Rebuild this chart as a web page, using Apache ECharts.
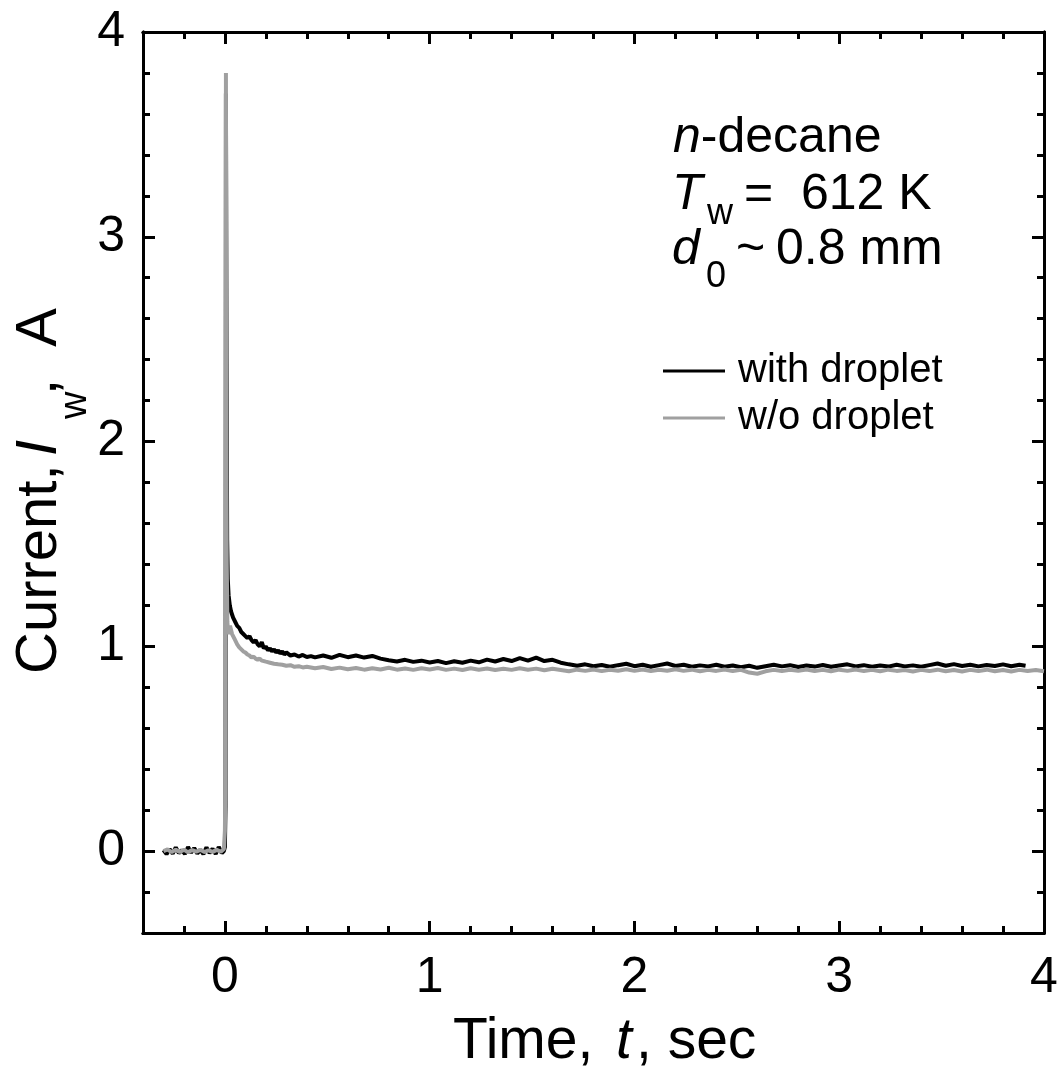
<!DOCTYPE html>
<html>
<head>
<meta charset="utf-8">
<script src="https://cdn.jsdelivr.net/npm/echarts@6/dist/echarts.min.js"></script>
<style>html,body{margin:0;padding:0;background:#fff}#c{width:1061px;height:1086px}</style>
</head>
<body>
<div id="c"></div>
<script>
// ---------- data ----------
const seriesNames = ['with droplet', 'w/o droplet'];
const majorTicks = [0, 1, 2, 3, 4];

// [time (s), current (A)]
const withDroplet = [
  [-0.30,0.005],[-0.285,-0.015],[-0.27,0.01],[-0.255,-0.012],[-0.24,0.018],[-0.225,-0.01],[-0.21,0.004],
  [-0.195,-0.014],[-0.18,0.02],[-0.165,-0.008],[-0.15,0.015],[-0.135,-0.012],[-0.12,0.006],[-0.105,-0.015],
  [-0.09,0.018],[-0.075,-0.01],[-0.06,0.012],[-0.045,-0.014],[-0.03,0.02],[-0.015,-0.01],[-0.005,0.0],
  [0.0,0.02],[0.003,0.22],[0.005,3.70],[0.008,2.40],[0.011,1.52],[0.014,1.33],[0.018,1.25],[0.024,1.20],
  [0.03,1.17],[0.04,1.14],[0.05,1.12],[0.06,1.10],[0.07,1.09],[0.08,1.07],[0.09,1.06],[0.10,1.05],
  [0.11,1.04],[0.12,1.05],[0.13,1.03],[0.14,1.02],[0.15,1.03],[0.16,1.01],[0.17,1.00],[0.18,1.02],
  [0.19,0.99],[0.20,1.00],[0.21,0.98],[0.22,0.99],[0.23,0.975],[0.24,0.985],[0.25,0.97],[0.26,0.98],
  [0.27,0.965],[0.28,0.975],[0.29,0.96],[0.30,0.97],[0.32,0.955],[0.34,0.96],[0.36,0.95],[0.38,0.958],
  [0.40,0.948],[0.42,0.952],
  [0.44,0.946],[0.48,0.955],[0.52,0.944],[0.56,0.958],[0.60,0.947],[0.64,0.955],[0.68,0.945],[0.72,0.953],
  [0.76,0.94],[0.80,0.932],[0.84,0.926],[0.88,0.934],[0.92,0.924],[0.96,0.93],[1.00,0.921],[1.04,0.928],
  [1.08,0.918],[1.12,0.927],[1.16,0.92],[1.20,0.93],[1.24,0.922],[1.28,0.935],[1.32,0.926],[1.36,0.938],
  [1.40,0.928],[1.44,0.942],[1.48,0.93],[1.52,0.945],[1.56,0.928],[1.60,0.934],[1.64,0.92],[1.68,0.912],
  [1.72,0.905],[1.76,0.912],[1.80,0.903],[1.84,0.909],[1.88,0.90],[1.92,0.908],[1.96,0.915],[2.00,0.903],
  [2.04,0.91],[2.08,0.90],[2.12,0.908],[2.16,0.916],[2.20,0.904],[2.24,0.91],[2.28,0.90],[2.32,0.907],
  [2.36,0.902],[2.40,0.91],[2.44,0.90],[2.48,0.906],[2.52,0.898],[2.56,0.905],[2.60,0.895],[2.64,0.903],
  [2.68,0.91],[2.72,0.902],[2.76,0.908],[2.80,0.899],[2.84,0.906],[2.88,0.901],[2.92,0.909],[2.96,0.90],
  [3.00,0.906],[3.04,0.912],[3.08,0.902],[3.12,0.908],[3.16,0.90],[3.20,0.906],[3.24,0.901],[3.28,0.91],
  [3.32,0.902],[3.36,0.907],[3.40,0.90],[3.44,0.908],[3.48,0.916],[3.52,0.905],[3.56,0.913],[3.60,0.904],
  [3.64,0.91],[3.68,0.902],[3.72,0.909],[3.76,0.904],[3.80,0.912],[3.84,0.903],[3.88,0.91],[3.91,0.905]
];

const withoutDroplet = [
  [-0.30,0.0],[-0.28,0.008],[-0.26,-0.005],[-0.24,0.006],[-0.22,-0.004],[-0.20,0.007],[-0.18,-0.006],
  [-0.16,0.005],[-0.14,-0.003],[-0.12,0.006],[-0.10,-0.005],[-0.08,0.004],[-0.06,-0.004],[-0.04,0.006],
  [-0.02,-0.003],[-0.005,0.01],[0.0,0.10],[0.002,0.30],[0.005,3.80],[0.007,2.20],[0.009,1.40],[0.012,1.12],
  [0.016,1.06],[0.02,1.08],[0.025,1.10],[0.03,1.08],[0.035,1.06],[0.04,1.05],[0.05,1.03],[0.06,1.01],
  [0.07,0.995],[0.08,0.985],[0.09,0.975],[0.10,0.97],[0.11,0.96],[0.12,0.955],[0.13,0.945],[0.14,0.95],
  [0.15,0.94],[0.16,0.935],[0.17,0.94],[0.18,0.93],[0.19,0.928],[0.20,0.925],[0.22,0.92],[0.24,0.915],
  [0.26,0.912],[0.28,0.91],[0.30,0.905],[0.32,0.908],[0.34,0.90],[0.36,0.903],[0.38,0.897],[0.40,0.90],
  [0.44,0.893],[0.48,0.899],[0.52,0.889],[0.56,0.896],[0.60,0.888],[0.64,0.894],[0.68,0.886],[0.72,0.893],
  [0.76,0.887],[0.80,0.895],[0.84,0.886],[0.88,0.892],[0.92,0.885],[0.96,0.893],[1.00,0.887],[1.04,0.894],
  [1.08,0.885],[1.12,0.891],[1.16,0.884],[1.20,0.893],[1.24,0.886],[1.28,0.892],[1.32,0.884],[1.36,0.89],
  [1.40,0.885],[1.44,0.893],[1.48,0.886],[1.52,0.891],[1.56,0.883],[1.60,0.89],[1.64,0.884],[1.68,0.878],
  [1.72,0.886],[1.76,0.88],[1.80,0.887],[1.84,0.879],[1.88,0.886],[1.92,0.881],[1.96,0.888],[2.00,0.88],
  [2.04,0.887],[2.08,0.879],[2.12,0.886],[2.16,0.881],[2.20,0.888],[2.24,0.88],[2.28,0.886],[2.32,0.878],
  [2.36,0.885],[2.40,0.88],[2.44,0.887],[2.48,0.879],[2.52,0.885],[2.56,0.872],[2.60,0.866],[2.64,0.878],
  [2.68,0.885],[2.72,0.879],[2.76,0.886],[2.80,0.88],[2.84,0.887],[2.88,0.879],[2.92,0.885],[2.96,0.878],
  [3.00,0.886],[3.04,0.88],[3.08,0.887],[3.12,0.879],[3.16,0.885],[3.20,0.878],[3.24,0.886],[3.28,0.88],
  [3.32,0.884],[3.36,0.877],[3.40,0.885],[3.44,0.879],[3.48,0.886],[3.52,0.878],[3.56,0.884],[3.60,0.877],
  [3.64,0.885],[3.68,0.879],[3.72,0.886],[3.76,0.878],[3.80,0.884],[3.84,0.877],[3.88,0.885],[3.92,0.879],
  [3.96,0.884],[4.00,0.878]
];

// ---------- chart ----------
const FONT = '"Liberation Sans", Arial, sans-serif';
const AX_MIN = -0.4, AX_MAX = 4, MINOR = 0.2;

function makeAxis(position, major, withLabels, isX) {
  const a = {
    type: 'value', position: position, min: AX_MIN, max: AX_MAX, interval: MINOR,
    axisLine: { show: true, onZero: false, lineStyle: { color: '#000', width: 3 } },
    axisTick: { show: true, inside: true, length: major ? 12 : 7, lineStyle: { color: '#000', width: 3 } },
    axisLabel: { show: withLabels },
    splitLine: { show: false }
  };
  if (major) a.axisTick.customValues = majorTicks;
  if (withLabels) {
    a.axisLabel = {
      show: true, customValues: majorTicks, fontSize: 50, fontFamily: FONT, color: '#000',
      margin: isX ? 20 : 18,
      formatter: function (v) { return Math.abs(v - Math.round(v)) < 1e-6 ? String(Math.round(v)) : ''; }
    };
  }
  return a;
}

const chart = echarts.init(document.getElementById('c'), null, { renderer: 'canvas' });

const subFont = 36, mainFont = 50;
const option = {
  backgroundColor: '#fff',
  animation: false,
  grid: { left: 143, right: 17, top: 32, bottom: 153, containLabel: false },
  xAxis: [
    makeAxis('bottom', true, true, true),
    makeAxis('bottom', false, false, true),
    makeAxis('top', true, false, true),
    makeAxis('top', false, false, true)
  ],
  yAxis: [
    makeAxis('left', true, true, false),
    makeAxis('left', false, false, false),
    makeAxis('right', true, false, false),
    makeAxis('right', false, false, false)
  ],
  legend: {
    orient: 'vertical', left: 658, top: 346, itemGap: 7,
    itemWidth: 62, itemHeight: 3, icon: 'rect',
    textStyle: { fontSize: 40, fontFamily: FONT, color: '#000', padding: [0, 0, 0, 8] },
    data: seriesNames
  },
  series: [
    { name: seriesNames[0], type: 'line', data: withDroplet, showSymbol: false, symbol: 'none',
      lineStyle: { color: '#000', width: 4 }, itemStyle: { color: '#000' }, z: 2 },
    { name: seriesNames[1], type: 'line', data: withoutDroplet, showSymbol: false, symbol: 'none',
      lineStyle: { color: '#a0a0a0', width: 4 }, itemStyle: { color: '#a0a0a0' }, z: 3 }
  ],
  graphic: [
    // annotation block
    { type: 'text', x: 673, y: 138, style: { text: '{i|n}-decane', fontSize: mainFont, fontFamily: FONT, fill: '#000', verticalAlign: 'middle',
      rich: { i: { fontStyle: 'italic', fontSize: mainFont, fontFamily: FONT } } } },
    { type: 'text', x: 672, y: 195, style: { text: 'T', fontSize: mainFont, fontStyle: 'italic', fontFamily: FONT, fill: '#000', verticalAlign: 'middle' } },
    { type: 'text', x: 707, y: 214, style: { text: 'w', fontSize: subFont, fontFamily: FONT, fill: '#000', verticalAlign: 'middle' } },
    { type: 'text', x: 744, y: 195, style: { text: '=  612 K', fontSize: mainFont, fontFamily: FONT, fill: '#000', verticalAlign: 'middle' } },
    { type: 'text', x: 672, y: 250, style: { text: 'd', fontSize: mainFont, fontStyle: 'italic', fontFamily: FONT, fill: '#000', verticalAlign: 'middle' } },
    { type: 'text', x: 706, y: 277, style: { text: '0', fontSize: subFont, fontFamily: FONT, fill: '#000', verticalAlign: 'middle' } },
    { type: 'text', x: 736, y: 250, style: { text: '~', fontSize: mainFont, fontFamily: FONT, fill: '#000', verticalAlign: 'middle' } },
    { type: 'text', x: 776, y: 250, style: { text: '0.8 mm', fontSize: mainFont, fontFamily: FONT, fill: '#000', verticalAlign: 'middle' } },
    // x axis title
    { type: 'text', x: 453, y: 1042, style: { text: 'Time,', fontSize: 57, fontFamily: FONT, fill: '#000', verticalAlign: 'middle' } },
    { type: 'text', x: 616, y: 1042, style: { text: 't', fontSize: 57, fontStyle: 'italic', fontFamily: FONT, fill: '#000', verticalAlign: 'middle' } },
    { type: 'text', x: 636, y: 1042, style: { text: ', sec', fontSize: 57, fontFamily: FONT, fill: '#000', verticalAlign: 'middle' } },
    // y axis title (rotated group)
    { type: 'group', x: 40, y: 491, rotation: Math.PI / 2, children: [
      { type: 'text', x: -183, y: 0, style: { text: 'Current,', fontSize: 58, fontFamily: FONT, fill: '#000', verticalAlign: 'middle' } },
      { type: 'text', x: 35, y: 0, style: { text: 'I', fontSize: 58, fontStyle: 'italic', fontFamily: FONT, fill: '#000', verticalAlign: 'middle' } },
      { type: 'text', x: 72, y: 36, style: { text: 'w', fontSize: 38, fontFamily: FONT, fill: '#000', verticalAlign: 'middle' } },
      { type: 'text', x: 96, y: 0, style: { text: ',  A', fontSize: 58, fontFamily: FONT, fill: '#000', verticalAlign: 'middle' } }
    ] }
  ]
};
chart.setOption(option);
</script>
</body>
</html>
